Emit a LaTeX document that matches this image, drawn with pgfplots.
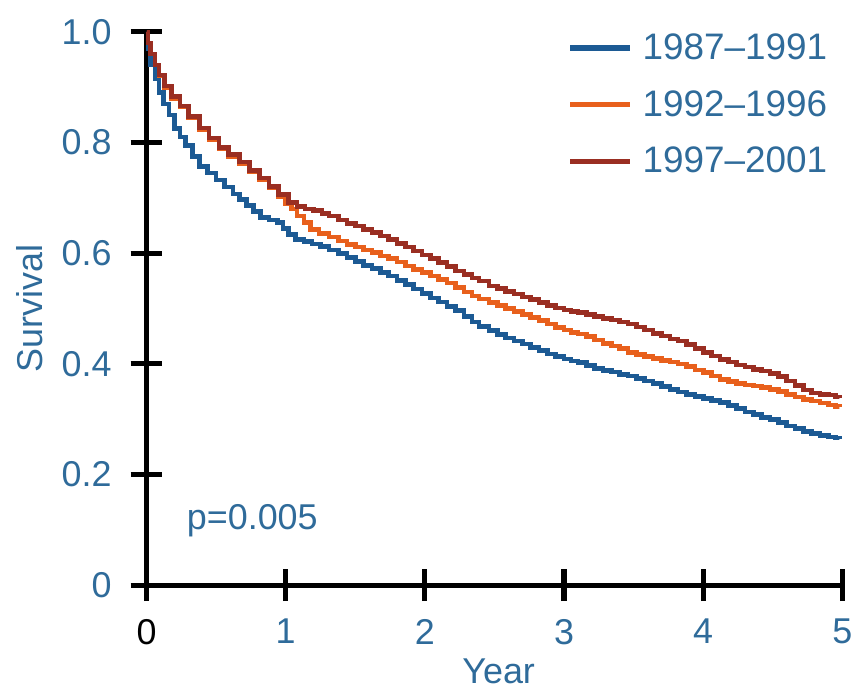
\documentclass[border=0pt]{standalone}
\usepackage{pgfplots}
\pgfplotsset{compat=1.18}
\usepackage{fontspec}
\setmainfont{Liberation Sans}
\definecolor{txtblue}{HTML}{2F6B9A}
\definecolor{c1}{HTML}{1C5A94}
\definecolor{c2}{HTML}{E8601C}
\definecolor{c3}{HTML}{9A2E22}
\begin{document}
\begin{tikzpicture}
\begin{axis}[
  at={(0,0)}, anchor=south west,
  scale only axis,
  width=349pt, height=277.5pt,
  xmin=0, xmax=5, ymin=0, ymax=1,
  clip=false,
  axis x line*=bottom, axis y line*=left,
  axis line style={-, line width=2.6pt, black},
  xtick={0,1,2,3,4,5},
  xticklabels={{\color{black}0},1,2,3,4,5},
  ytick={0,0.2,0.4,0.6,0.8,1.0},
  yticklabels={0,0.2,0.4,0.6,0.8,1.0},
  tick align=center,
  major tick length=16pt,
  tick style={line width=2.6pt, black},
  xticklabel style={yshift=-5.5pt},
  yticklabel style={xshift=-6pt},
  tick label style={font=\fontsize{18}{20}\selectfont, text=txtblue},
  label style={font=\fontsize{18}{20}\selectfont, text=txtblue},
  xlabel={Year}, ylabel={Survival},
  xlabel style={at={(rel axis cs:0.506,0)}, anchor=center, yshift=-43pt},
  ylabel style={at={(rel axis cs:0,0.5)}, anchor=center, yshift=58.5pt},
  legend style={draw=none, fill=none, at={(rel axis cs:0.993,1.012)}, anchor=north east,
    font=\fontsize{18.5}{20}\selectfont, text=txtblue, row sep=10pt, column sep=3pt},
  legend cell align=left,
  legend image code/.code={\draw[#1, line width=2.6pt] (0pt,0pt) -- (30pt,0pt);},
  every axis plot/.append style={const plot, line width=2.3pt},
]
\addplot[c1] coordinates {
(0,1.0) (0.01,0.97) (0.03,0.94) (0.06,0.915) (0.09,0.89) (0.12,0.87) (0.16,0.85)
(0.2,0.825) (0.24,0.81) (0.28,0.795) (0.33,0.775) (0.38,0.757) (0.44,0.745)
(0.5,0.732) (0.56,0.72) (0.62,0.707) (0.67,0.697) (0.72,0.686) (0.77,0.675)
(0.82,0.665) (0.88,0.66) (0.94,0.655) (0.98,0.645) (1.02,0.634) (1.07,0.625)
(1.13,0.621) (1.19,0.617) (1.25,0.612) (1.31,0.606) (1.38,0.600) (1.44,0.592)
(1.5,0.585) (1.56,0.578) (1.62,0.572) (1.68,0.565) (1.74,0.559) (1.8,0.551)
(1.86,0.543) (1.92,0.535) (1.98,0.527) (2.04,0.519) (2.1,0.512) (2.16,0.504)
(2.22,0.496) (2.28,0.486) (2.34,0.476) (2.39,0.468) (2.46,0.46) (2.52,0.453)
(2.58,0.447) (2.64,0.441) (2.7,0.436) (2.76,0.43) (2.82,0.424) (2.88,0.418)
(2.94,0.413) (3.0,0.409) (3.05,0.405) (3.1,0.402) (3.16,0.397) (3.22,0.392)
(3.28,0.388) (3.34,0.385) (3.4,0.381) (3.46,0.378) (3.52,0.374) (3.58,0.369)
(3.64,0.364) (3.7,0.359) (3.76,0.354) (3.82,0.349) (3.88,0.345) (3.94,0.341)
(4.0,0.337) (4.06,0.334) (4.12,0.33) (4.18,0.325) (4.24,0.319) (4.3,0.313)
(4.36,0.308) (4.42,0.303) (4.48,0.299) (4.54,0.294) (4.6,0.288) (4.66,0.283)
(4.72,0.278) (4.78,0.274) (4.84,0.271) (4.9,0.268) (4.95,0.266) (4.98,0.265)};
\addlegendentry{1987--1991}
\addplot[c2] coordinates {
(0,1.0) (0.01,0.98) (0.03,0.96) (0.06,0.94) (0.09,0.92) (0.13,0.9) (0.18,0.88)
(0.24,0.865) (0.3,0.845) (0.38,0.823) (0.45,0.805) (0.52,0.788) (0.59,0.775)
(0.67,0.762) (0.74,0.748) (0.81,0.733) (0.88,0.718) (0.95,0.703) (1.0,0.69)
(1.04,0.68) (1.08,0.667) (1.13,0.655) (1.18,0.643) (1.24,0.636) (1.31,0.629)
(1.38,0.622) (1.44,0.616) (1.5,0.611) (1.56,0.606) (1.62,0.601) (1.68,0.595)
(1.74,0.59) (1.8,0.584) (1.86,0.577) (1.92,0.571) (1.98,0.565) (2.04,0.559)
(2.1,0.553) (2.16,0.546) (2.22,0.538) (2.28,0.53) (2.34,0.523) (2.39,0.517)
(2.46,0.511) (2.52,0.506) (2.58,0.5) (2.64,0.495) (2.7,0.489) (2.76,0.484)
(2.82,0.478) (2.88,0.472) (2.94,0.466) (3.0,0.461) (3.05,0.457) (3.1,0.454)
(3.16,0.449) (3.22,0.443) (3.28,0.437) (3.34,0.432) (3.4,0.428) (3.46,0.421)
(3.52,0.417) (3.58,0.413) (3.64,0.41) (3.7,0.406) (3.76,0.403) (3.82,0.4)
(3.88,0.395) (3.94,0.389) (4.0,0.384) (4.06,0.378) (4.12,0.372) (4.18,0.368)
(4.24,0.365) (4.3,0.362) (4.36,0.36) (4.42,0.357) (4.48,0.354) (4.54,0.35)
(4.6,0.345) (4.66,0.34) (4.72,0.336) (4.78,0.333) (4.84,0.329) (4.9,0.326)
(4.95,0.323) (4.98,0.322)};
\addlegendentry{1992--1996}
\addplot[c3] coordinates {
(0,1.0) (0.01,0.98) (0.03,0.96) (0.06,0.94) (0.09,0.922) (0.13,0.902) (0.18,0.883)
(0.24,0.866) (0.3,0.847) (0.38,0.826) (0.45,0.808) (0.52,0.791) (0.59,0.778)
(0.67,0.765) (0.74,0.75) (0.81,0.736) (0.88,0.721) (0.95,0.706) (1.02,0.692)
(1.08,0.684) (1.14,0.68) (1.2,0.677) (1.26,0.672) (1.31,0.667) (1.38,0.66)
(1.44,0.654) (1.5,0.649) (1.56,0.643) (1.62,0.637) (1.68,0.631) (1.74,0.625)
(1.8,0.618) (1.86,0.611) (1.92,0.604) (1.98,0.597) (2.04,0.59) (2.1,0.583)
(2.16,0.576) (2.22,0.568) (2.28,0.561) (2.34,0.555) (2.39,0.55) (2.46,0.541)
(2.52,0.536) (2.58,0.531) (2.64,0.526) (2.7,0.521) (2.76,0.516) (2.82,0.511)
(2.88,0.506) (2.94,0.501) (3.0,0.497) (3.05,0.495) (3.1,0.493) (3.16,0.489)
(3.22,0.486) (3.28,0.482) (3.34,0.479) (3.4,0.476) (3.46,0.472) (3.52,0.467)
(3.58,0.461) (3.64,0.455) (3.7,0.45) (3.76,0.445) (3.82,0.441) (3.88,0.435)
(3.94,0.428) (4.0,0.421) (4.06,0.414) (4.12,0.408) (4.18,0.403) (4.24,0.398)
(4.3,0.394) (4.36,0.39) (4.42,0.387) (4.48,0.383) (4.54,0.377) (4.6,0.369)
(4.66,0.361) (4.72,0.353) (4.78,0.347) (4.84,0.345) (4.9,0.344) (4.95,0.34)
(4.98,0.339)};
\addlegendentry{1997--2001}
\node[font=\fontsize{18}{20}\selectfont, text=txtblue] at (axis cs:0.76,0.117) {p=0.005};
\end{axis}
\path (-73.5pt,-51.5pt) rectangle (356pt,293.5pt);
\end{tikzpicture}
\end{document}
